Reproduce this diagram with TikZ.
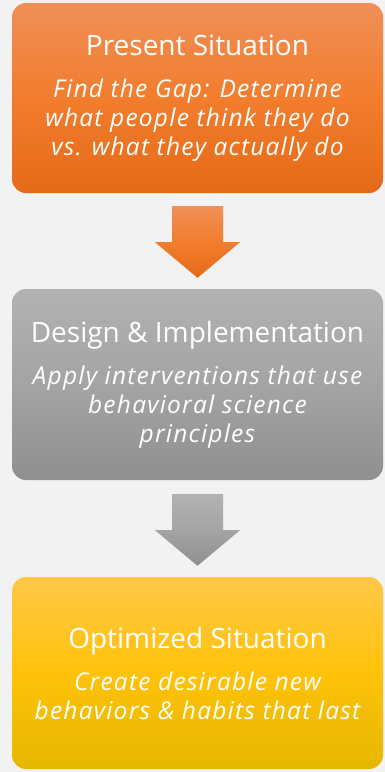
\documentclass[tikz,border=0pt]{standalone}
\usepackage{fontspec}
\setmainfont{Open Sans}
\newfontfamily\stagedescfont{Open Sans}[LetterSpace=5]
\usetikzlibrary{calc}
\definecolor{bgcol}{RGB}{242,242,242}
\definecolor{orangetop}{RGB}{240,143,88}
\definecolor{orangemid}{RGB}{242,125,45}
\definecolor{orangebot}{RGB}{228,106,24}
\definecolor{graytop}{RGB}{178,178,178}
\definecolor{graymid}{RGB}{164,164,164}
\definecolor{graybot}{RGB}{143,143,143}
\definecolor{yellowtop}{RGB}{255,200,72}
\definecolor{yellowmid}{RGB}{255,194,10}
\definecolor{yellowbot}{RGB}{230,183,0}
\newcommand\stagetitlefont{\fontsize{28}{29}\selectfont\normalfont\upshape}
\begin{document}
\begin{tikzpicture}[x=1pt,y=1pt,yscale=-1,xscale=1,
    stagebox/.style={rounded corners=14pt, minimum width=371pt, inner sep=0pt, text=white, align=center,
        font=\stagedescfont\fontsize{24.5}{29}\selectfont\itshape}]
        \fill[bgcol] (0,0) rectangle (385,772);
        \useasboundingbox (0,0) rectangle (385,772);
        
        %Rounded Rect [id:present]
        \node[stagebox, minimum height=190pt, top color=orangetop, bottom color=orangebot, middle color=orangemid] (present) at (197.5,98)
            {{\stagetitlefont Present Situation}\\[13pt]Find the Gap: Determine\\what people think they do\\vs. what they actually do};
        %Rounded Rect [id:design]
        \node[stagebox, minimum height=191pt, top color=graytop, bottom color=graybot, middle color=graymid] (design) at (197.5,384.5)
            {{\stagetitlefont Design \& Implementation}\\[13pt]Apply interventions that use\\behavioral science\\principles};
        %Rounded Rect [id:optimized]
        \node[stagebox, minimum height=192pt, top color=yellowtop, bottom color=yellowbot, middle color=yellowmid] (optimized) at (197.5,673)
            {{\stagetitlefont Optimized Situation}\\[13pt]Create desirable new\\behaviors \& habits that last};
        
        %Block Arrow [id:present-design]
        \shade[top color=orangetop, bottom color=orangebot, middle color=orangemid] ($(present.south)+(-25.5,13)$) -- ++(51,0) -- ++(0,36) -- ++(17,0) -- ($(design.north)+(0,-11)$) -- ($(present.south)+(-42.5,49)$) -- ++(17,0) -- cycle ;
        %Block Arrow [id:design-optimized]
        \shade[top color=graytop, bottom color=graybot, middle color=graymid] ($(design.south)+(-25.5,14)$) -- ++(51,0) -- ++(0,36) -- ++(17,0) -- ($(optimized.north)+(0,-11)$) -- ($(design.south)+(-42.5,50)$) -- ++(17,0) -- cycle ;
    \end{tikzpicture}
\end{document}
